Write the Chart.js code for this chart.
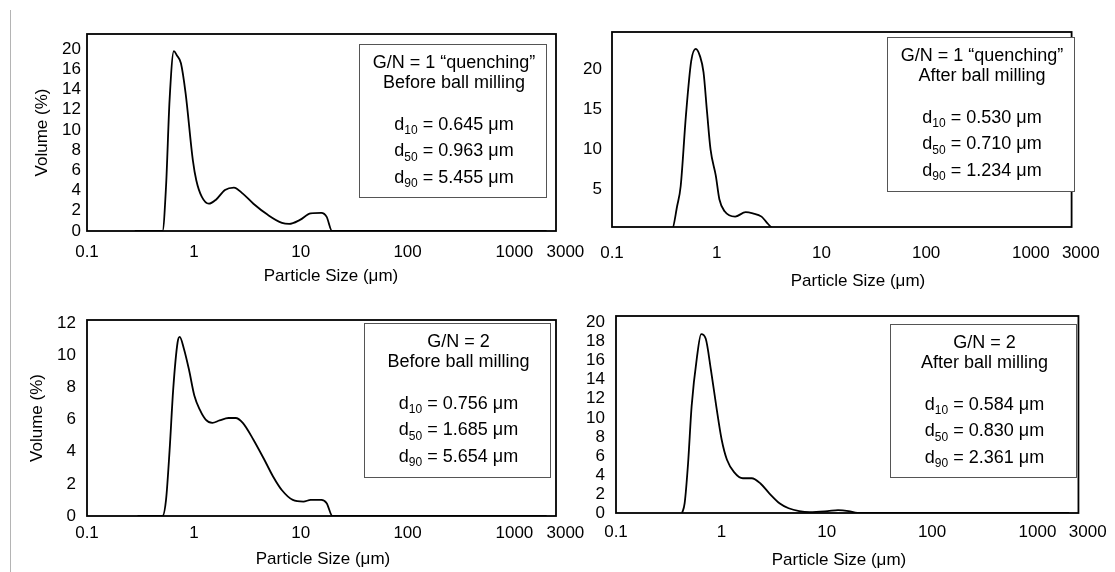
<!DOCTYPE html>
<html>
<head>
<meta charset="utf-8">
<script src="https://cdn.jsdelivr.net/npm/chart.js@4.4.1/dist/chart.umd.min.js"></script>
<style>
  body { margin: 0; background: #fff; width: 1115px; height: 572px; overflow: hidden; position: relative; }
  canvas { position: absolute; }
  #edge { position: absolute; left: 10px; top: 10px; height: 562px; border-left: 1px solid #b4b4b4; }
</style>
</head>
<body>
<div id="edge"></div>
<canvas id="c1" width="600" height="290" style="left:0;top:0"></canvas>
<canvas id="c2" width="558" height="290" style="left:557px;top:0"></canvas>
<canvas id="c3" width="600" height="282" style="left:0;top:290px"></canvas>
<canvas id="c4" width="558" height="282" style="left:557px;top:290px"></canvas>
<script>
// particle size (um) and volume (%)
const sizes1 = [0.28, 0.509, 0.549, 0.593, 0.650, 0.692, 0.757, 0.838, 0.979, 1.055, 1.185, 1.381, 1.61, 1.954, 2.37, 2.87, 3.61, 4.92, 6.68, 7.80, 9.84, 12.4, 15.6, 17.5, 19.6, 2000];
const volume1 = [0, 0, 4.4, 13.0, 17.8, 17.4, 16.6, 13.6, 7.0, 5.0, 3.4, 2.7, 3.1, 4.06, 4.3, 3.7, 2.7, 1.6, 0.8, 0.7, 1.1, 1.75, 1.8, 1.4, 0, 0];

const sizes2 = [0.3, 0.373, 0.419, 0.453, 0.508, 0.571, 0.631, 0.692, 0.748, 0.809, 0.873, 0.981, 1.06, 1.19, 1.50, 1.89, 2.21, 2.68, 3.01, 3.30, 3.6, 2000];
const volume2 = [0, 0, 2.96, 5.45, 14.2, 21.0, 22.5, 21.6, 19.6, 14.6, 10.0, 6.7, 3.8, 2.3, 1.64, 2.2, 2.05, 1.64, 0.9, 0.35, 0, 0];

const sizes3 = [0.297, 0.509, 0.549, 0.593, 0.641, 0.704, 0.737, 0.808, 0.901, 1.01, 1.14, 1.29, 1.49, 1.74, 2.11, 2.46, 2.87, 3.61, 4.57, 5.51, 6.68, 8.43, 10.6, 12.4, 15.6, 17.5, 19.8, 2000];
const volume3 = [0, 0, 1.0, 4.1, 7.9, 10.8, 11.15, 10.4, 9.1, 7.5, 6.6, 6.0, 5.8, 5.95, 6.1, 6.1, 5.8, 4.75, 3.5, 2.46, 1.6, 1.0, 0.9, 1.0, 1.0, 0.8, 0, 0];

const sizes4 = [0.424, 0.448, 0.483, 0.522, 0.587, 0.643, 0.711, 0.797, 0.895, 1.007, 1.13, 1.32, 1.60, 1.94, 2.35, 2.85, 3.59, 4.35, 5.48, 6.91, 10.2, 12.8, 16.1, 19.6, 2000];
const volume4 = [0, 1.0, 5.2, 11.2, 16.4, 18.8, 18.3, 15.0, 11.2, 7.7, 5.6, 4.3, 3.65, 3.65, 3.1, 2.07, 1.0, 0.5, 0.2, 0.1, 0.2, 0.3, 0.2, 0, 0];

// axis ticks
const xTicks = [0.1, 1, 10, 100, 1000, 3000];
const xTickLabels = ['0.1', '1', '10', '100', '1000', '3000'];
const yTicks1 = [0, 2, 4, 6, 8, 10, 12, 14, 16, 18];
const yTickLabels1 = ['0', '2', '4', '6', '8', '10', '12', '14', '16', '20'];
const yTicks2 = [5, 10, 15, 20];
const yTickLabels2 = ['5', '10', '15', '20'];
const yTicks3 = [0, 2, 4, 6, 8, 10, 12];
const yTickLabels3 = ['0', '2', '4', '6', '8', '10', '12'];
const yTicks4 = [0, 2, 4, 6, 8, 10, 12, 14, 16, 18, 20];
const yTickLabels4 = ['0', '2', '4', '6', '8', '10', '12', '14', '16', '18', '20'];

// texts
const xTitle = 'Particle Size (\u03bcm)';
const yTitle = 'Volume (%)';
const boxHeads = [
  ['G/N = 1 \u201cquenching\u201d', 'Before ball milling'],
  ['G/N = 1 \u201cquenching\u201d', 'After ball milling'],
  ['G/N = 2', 'Before ball milling'],
  ['G/N = 2', 'After ball milling']
];
const dLabels = ['10', '50', '90'];
const dValues = [
  ['0.645', '0.963', '5.455'],
  ['0.530', '0.710', '1.234'],
  ['0.756', '1.685', '5.654'],
  ['0.584', '0.830', '2.361']
];

const FONT = 'Liberation Sans, Arial, sans-serif';
Chart.defaults.color = '#000';
Chart.defaults.font.family = FONT;

// frame, x title (sits a bit off-centre in the original) and the info box
const panelDecor = {
  id: 'panelDecor',
  afterDraw(chart, args, opts) {
    const ctx = chart.ctx;
    const a = chart.chartArea;
    ctx.save();
    ctx.strokeStyle = '#000';
    ctx.lineWidth = 1.8;
    ctx.strokeRect(a.left, a.top, a.right - a.left, a.bottom - a.top);

    ctx.fillStyle = '#000';
    ctx.textBaseline = 'middle';
    ctx.textAlign = 'center';
    ctx.font = '17px ' + FONT;
    ctx.fillText(xTitle, opts.title.x, opts.title.y);

    const b = opts.box;
    ctx.fillStyle = '#fff';
    ctx.fillRect(b.x, b.y, b.w, b.h);
    ctx.strokeStyle = '#555';
    ctx.lineWidth = 1;
    ctx.strokeRect(b.x + 0.5, b.y + 0.5, b.w, b.h);

    const cx = b.x + b.w / 2 + 1.5;
    ctx.fillStyle = '#000';
    ctx.font = '18px ' + FONT;
    ctx.fillText(opts.heads[0], cx, b.y + 19.5);
    ctx.fillText(opts.heads[1], cx, b.y + 39.5);

    ctx.textAlign = 'left';
    const rows = [81, 107.5, 134];
    opts.values.forEach((val, i) => {
      const rest = ' = ' + val + ' \u03bcm';
      ctx.font = '18px ' + FONT;
      const wd = ctx.measureText('d').width;
      const wr = ctx.measureText(rest).width;
      ctx.font = '12px ' + FONT;
      const ws = ctx.measureText(dLabels[i]).width;
      const x = cx - (wd + ws + wr) / 2;
      const y = b.y + rows[i];
      ctx.font = '18px ' + FONT;
      ctx.fillText('d', x, y);
      ctx.font = '12px ' + FONT;
      ctx.fillText(dLabels[i], x + wd, y + 6);
      ctx.font = '18px ' + FONT;
      ctx.fillText(rest, x + wd + ws, y);
    });
    ctx.restore();
  }
};

function makeChart(id, sizes, volume, cfg) {
  const points = sizes.map((s, i) => ({ x: s, y: volume[i] }));
  return new Chart(document.getElementById(id), {
    type: 'line',
    data: {
      datasets: [{
        data: points,
        borderColor: '#000',
        borderWidth: 1.8,
        pointRadius: 0,
        fill: false,
        cubicInterpolationMode: 'monotone'
      }]
    },
    options: {
      responsive: false,
      animation: false,
      devicePixelRatio: 1,
      layout: { padding: { left: 0, top: cfg.top, right: cfg.right, bottom: 0 } },
      plugins: {
        legend: { display: false },
        tooltip: { enabled: false },
        panelDecor: { box: cfg.box, heads: cfg.heads, values: cfg.values, title: cfg.xTitleAt }
      },
      scales: {
        x: {
          type: 'logarithmic',
          min: 0.1,
          max: 2450,
          grid: { display: false, drawTicks: false },
          border: { display: false },
          afterBuildTicks: axis => { axis.ticks = xTicks.map(v => ({ value: v })); },
          afterFit: axis => { axis.height = cfg.xHeight; },
          ticks: {
            autoSkip: false,
            maxRotation: 0,
            padding: cfg.xPad,
            font: { size: 17 },
            callback: (v, i) => xTickLabels[i]
          }
        },
        y: {
          min: cfg.yMin,
          max: cfg.yMax,
          grid: { display: false, drawTicks: false },
          border: { display: false },
          afterBuildTicks: axis => { axis.ticks = cfg.yTicks.map(v => ({ value: v })); },
          afterFit: axis => { axis.width = cfg.yWidth; },
          ticks: {
            autoSkip: false,
            padding: cfg.yPad,
            font: { size: 17 },
            callback: (v, i) => cfg.yLabels[i]
          },
          title: {
            display: cfg.yTitle,
            text: yTitle,
            font: { size: 17 },
            padding: { top: cfg.yTitlePad, bottom: 0 }
          }
        }
      }
    },
    plugins: [panelDecor]
  });
}

makeChart('c1', sizes1, volume1, {
  top: 34, right: 44, xHeight: 59, xPad: 11, xTitleAt: { x: 331, y: 276 },
  yMin: 0, yMax: 19.5, yTicks: yTicks1, yLabels: yTickLabels1, yWidth: 87, yPad: 6,
  yTitle: true, yTitlePad: 32,
  box: { x: 359, y: 44, w: 187, h: 153 }, heads: boxHeads[0], values: dValues[0]
});

makeChart('c2', sizes2, volume2, {
  top: 32, right: 36, xHeight: 63, xPad: 16, xTitleAt: { x: 301, y: 281 },
  yMin: 0.35, yMax: 24.6, yTicks: yTicks2, yLabels: yTickLabels2, yWidth: 55, yPad: 10,
  yTitle: false, yTitlePad: 0,
  box: { x: 330, y: 37, w: 187, h: 154 }, heads: boxHeads[1], values: dValues[1]
});

makeChart('c3', sizes3, volume3, {
  top: 30, right: 44, xHeight: 56, xPad: 7, xTitleAt: { x: 323, y: 269 },
  yMin: 0, yMax: 12.2, yTicks: yTicks3, yLabels: yTickLabels3, yWidth: 87, yPad: 11,
  yTitle: true, yTitlePad: 27,
  box: { x: 364, y: 33, w: 186, h: 154 }, heads: boxHeads[2], values: dValues[2]
});

makeChart('c4', sizes4, volume4, {
  top: 26, right: 31, xHeight: 59, xPad: 9, xTitleAt: { x: 282, y: 270 },
  yMin: 0, yMax: 20.7, yTicks: yTicks4, yLabels: yTickLabels4, yWidth: 59, yPad: 11,
  yTitle: false, yTitlePad: 0,
  box: { x: 333, y: 34, w: 186, h: 153 }, heads: boxHeads[3], values: dValues[3]
});
</script>
</body>
</html>
